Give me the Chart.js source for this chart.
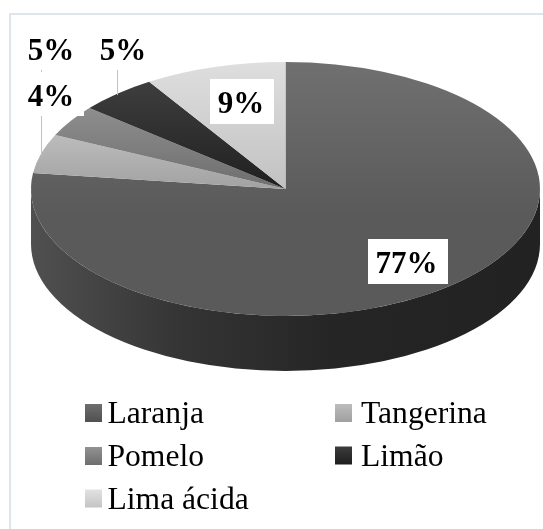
<!DOCTYPE html>
<html><head><meta charset="utf-8">
<style>html,body{margin:0;padding:0;background:#fff}canvas{display:block}</style>
<script src="https://cdn.jsdelivr.net/npm/chart.js@4"></script></head>
<body><canvas id="c" width="543" height="529"></canvas>
<script>
const categories = ['Laranja','Tangerina','Pomelo','Limão','Lima ácida'];
const shares = [77,5,4,5,9];
const percentLabels = ['77%','5%','4%','5%','9%'];
const gradientTop = ['#707070','#bcbcbc','#8e8e8e','#3e3e3e','#dedede'];
const gradientBottom = ['#5a5a5a','#a2a2a2','#6e6e6e','#202020','#c2c2c2'];
const legendTop = ['#6e6e6e','#bcbcbc','#929292','#3c3c3c','#e2e2e2'];
const legendBottom = ['#505050','#a0a0a0','#6e6e6e','#1e1e1e','#c4c4c4'];

const TILT = { centerY: 189, radiusY: 127, depth: 55 };
const labelStyle = [
  { x: 406.5, y: 272.5, box: [368,239,80,45] },
  { x: 51, y: 59.5, box: null },
  { x: 51, y: 105.5, box: [27,72,57,44] },
  { x: 123, y: 59.5, box: null },
  { x: 241, y: 112.5, box: [210,79,64,45] }
];
const leaders = [[41,70,41,155],[117,70,117,95]];
const legendSlots = [[85,107.5,423],[335,361,423],[85,107.5,466],[335,361,465.5],[85,107.5,508.5]];

function sliceGradient(c) {
  const chart = c.chart, area = chart.chartArea;
  const i = c.dataIndex;
  if (!area) return gradientBottom[i];
  const cy = (area.top + area.bottom) / 2;
  const r = Math.min(area.width, area.height) / 2;
  const total = shares.reduce((a,b)=>a+b,0);
  let sum = 0; for (let k=0;k<i;k++) sum += shares[k];
  const a0 = sum/total*2*Math.PI, a1 = (sum+shares[i])/total*2*Math.PI;
  let top = cy - r*Math.max(Math.cos(a0), Math.cos(a1));
  let bottom = cy;
  if (i === 0) { top = cy - r; bottom = cy + r*0.2; }
  const g = chart.ctx.createLinearGradient(0, top, 0, bottom);
  g.addColorStop(0, gradientTop[i]); g.addColorStop(1, gradientBottom[i]);
  return g;
}

const tiltPlugin = {
  id: 'tilt',
  beforeDatasetsDraw(chart) {
    const ctx = chart.ctx, arcs = chart.getDatasetMeta(0).data;
    const {x, y, outerRadius: r} = arcs[0];
    // side wall, from the library's own arc geometry
    arcs.forEach(arc => {
      const a0 = Math.max(arc.startAngle, 0), a1 = Math.min(arc.endAngle, Math.PI);
      if (a1 <= a0) return;
      const g = ctx.createLinearGradient(x - r, 0, x + r, 0);
      g.addColorStop(0, '#505050'); g.addColorStop(0.3, '#343434');
      g.addColorStop(0.6, '#252525'); g.addColorStop(1, '#222222');
      ctx.beginPath();
      ctx.ellipse(x, TILT.centerY, r, TILT.radiusY, 0, a0, a1);
      ctx.ellipse(x, TILT.centerY + TILT.depth, r, TILT.radiusY, 0, a1, a0, true);
      ctx.closePath(); ctx.fillStyle = g; ctx.fill();
    });
    ctx.save();
    ctx.translate(x, TILT.centerY);
    ctx.scale(1, TILT.radiusY / r);
    ctx.translate(-x, -y);
  },
  afterDatasetsDraw(chart) {
    const ctx = chart.ctx;
    ctx.restore();
    // leader lines
    ctx.strokeStyle = '#b7c4d8'; ctx.lineWidth = 1;
    leaders.forEach(l => { ctx.beginPath(); ctx.moveTo(l[0]+.5,l[1]); ctx.lineTo(l[2]+.5,l[3]); ctx.stroke(); });
    // data labels
    ctx.font = 'bold 31px "Liberation Serif"';
    ctx.textAlign = 'center'; ctx.textBaseline = 'alphabetic';
    percentLabels.forEach((t,i) => {
      const s = labelStyle[i];
      if (s.box) { ctx.fillStyle = '#fff'; ctx.fillRect(...s.box); }
      ctx.fillStyle = '#000'; ctx.fillText(t, s.x, s.y);
    });
    // legend
    ctx.font = '31.6px "Liberation Serif"';
    ctx.textAlign = 'left'; ctx.textBaseline = 'alphabetic';
    categories.forEach((t,i) => {
      const [sx, tx, ly] = legendSlots[i];
      const g = ctx.createLinearGradient(0, ly-19, 0, ly-1);
      g.addColorStop(0, legendTop[i]); g.addColorStop(1, legendBottom[i]);
      ctx.fillStyle = g; ctx.fillRect(sx, ly-19, 17, 18);
      ctx.fillStyle = '#000'; ctx.fillText(t, tx, ly);
    });
  }
};
const framePlugin = {
  id: 'frame',
  beforeDraw(chart) {
    const ctx = chart.ctx;
    ctx.fillStyle = '#fff'; ctx.fillRect(0,0,543,529);
    ctx.strokeStyle = '#dfe5ef'; ctx.lineWidth = 2;
    ctx.beginPath(); ctx.moveTo(10,529); ctx.lineTo(10,14); ctx.lineTo(543,14); ctx.stroke();
  }
};

new Chart(document.getElementById('c'), {
  type: 'pie',
  data: { labels: categories, datasets: [{ data: shares, backgroundColor: sliceGradient, borderWidth: 0 }] },
  options: {
    responsive: false, animation: false,
    layout: { padding: { left: 31, right: 3, top: 10, bottom: 10 } },
    plugins: { legend: { display: false }, tooltip: { enabled: false } }
  },
  plugins: [framePlugin, tiltPlugin]
});
</script></body></html>
